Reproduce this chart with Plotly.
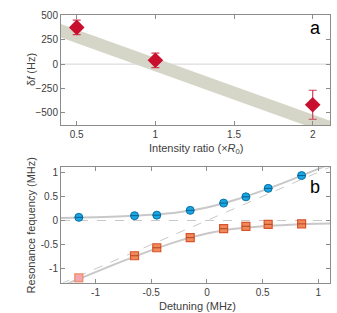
import plotly.graph_objects as go

# Panel a data
ratio = [0.5, 1.0, 2.0]
delta_f = [380, 40, -420]
delta_err = [75, 75, 150]
band_x = [0.4, 2.11]
band_upper = [415, -585]
band_lower = [275, -725]

# Panel b data
det = [-1.15, -0.65, -0.45, -0.15, 0.15, 0.35, 0.55, 0.85]
upper_f = [0.065, 0.10, 0.11, 0.21, 0.36, 0.49, 0.665, 0.93]
lower_f = [-1.19, -0.73, -0.565, -0.355, -0.17, -0.12, -0.08, -0.07]
fit_x = [-1.31, -1.0, -0.75, -0.5, -0.25, 0.0, 0.25, 0.5, 0.75, 1.0, 1.105]
fit_upper = [0.053, 0.068, 0.087, 0.118, 0.173, 0.27, 0.423, 0.618, 0.837, 1.068, 1.167]
fit_lower = [-1.363, -1.068, -0.837, -0.618, -0.423, -0.27, -0.173, -0.118, -0.087, -0.068, -0.062]
diag_x = [-1.31, 1.105]

FONT = "Liberation Sans"
TICKC = "#404040"
AXC = "#8c8c8c"
RED = "#c8102e"

fig = go.Figure()

# band
fig.add_trace(go.Scatter(x=band_x, y=band_upper, mode="lines", line=dict(width=0),
                         showlegend=False, hoverinfo="skip", xaxis="x", yaxis="y"))
fig.add_trace(go.Scatter(x=band_x, y=band_lower, mode="lines", line=dict(width=0),
                         fill="tonexty", fillcolor="rgb(214,214,200)",
                         showlegend=False, hoverinfo="skip", xaxis="x", yaxis="y"))
# zero line
fig.add_trace(go.Scatter(x=band_x, y=[0, 0], mode="lines", line=dict(color="#d4d4d4", width=1),
                         showlegend=False, xaxis="x", yaxis="y"))
# points a
fig.add_trace(go.Scatter(x=ratio, y=delta_f, mode="markers",
                         marker=dict(symbol="diamond", size=12, color=RED),
                         error_y=dict(type="data", array=delta_err, color="#d0405a",
                                      thickness=1.2, width=4),
                         showlegend=False, xaxis="x", yaxis="y"))

# panel b asymptotes
fig.add_trace(go.Scatter(x=diag_x, y=[0, 0], mode="lines",
                         line=dict(color="#c8c8c8", width=1, dash="dash"),
                         showlegend=False, xaxis="x2", yaxis="y2"))
fig.add_trace(go.Scatter(x=diag_x, y=diag_x, mode="lines",
                         line=dict(color="#c8c8c8", width=1, dash="dash"),
                         showlegend=False, xaxis="x2", yaxis="y2"))
# fits
for fy in (fit_upper, fit_lower):
    fig.add_trace(go.Scatter(x=fit_x, y=fy, mode="lines", line=dict(color="#c8c8c8", width=2, shape="spline"),
                             showlegend=False, xaxis="x2", yaxis="y2"))
# points
fig.add_trace(go.Scatter(x=det, y=upper_f, mode="markers",
                         marker=dict(symbol="circle", size=8, color="#1aa6e0",
                                     line=dict(color="#0b6fa8", width=1)),
                         showlegend=False, xaxis="x2", yaxis="y2"))
fig.add_trace(go.Scatter(x=det, y=upper_f, mode="markers",
                         marker=dict(symbol="line-ew", size=6, line=dict(color="#0b5f90", width=1)),
                         showlegend=False, xaxis="x2", yaxis="y2"))
sq_fill = ["#f4a7b0"] + ["#f08a5d"] * (len(det) - 1)
sq_line = ["#f08a5d"] + ["#d9542a"] * (len(det) - 1)
fig.add_trace(go.Scatter(x=det, y=lower_f, mode="markers",
                         marker=dict(symbol="square", size=8, color=sq_fill,
                                     line=dict(color=sq_line, width=1.2)),
                         showlegend=False, xaxis="x2", yaxis="y2"))
fig.add_trace(go.Scatter(x=det[1:], y=lower_f[1:], mode="markers",
                         marker=dict(symbol="line-ew", size=6, line=dict(color="#b4441f", width=1)),
                         showlegend=False, xaxis="x2", yaxis="y2"))

axis_common = dict(showgrid=False, zeroline=False, showline=True, linecolor=AXC, linewidth=1,
                   mirror="ticks", ticks="inside", ticklen=4, tickcolor=AXC,
                   tickfont=dict(family=FONT, size=10, color=TICKC))

W, H = 337, 313
fig.update_layout(
    width=W, height=H, margin=dict(l=0, r=0, t=0, b=0),
    paper_bgcolor="white", plot_bgcolor="white",
    font=dict(family=FONT, color=TICKC),
    xaxis=dict(domain=[61 / W, 330 / W], range=[0.4, 2.11], tickvals=[0.5, 1, 1.5, 2],
               ticktext=["0.5", "1", "1.5", "2"], anchor="y", **axis_common),
    yaxis=dict(domain=[1 - 122 / H, 1 - 10 / H], range=[-630, 510],
               tickvals=[500, 250, 0, -250, -500], anchor="x", **axis_common),
    xaxis2=dict(domain=[61 / W, 330 / W], range=[-1.31, 1.105], tickvals=[-1, -0.5, 0, 0.5, 1],
                ticktext=["-1", "-0.5", "0", "0.5", "1"], anchor="y2", **axis_common),
    yaxis2=dict(domain=[1 - 282.3 / H, 1 - 165 / H], range=[-1.29, 1.1],
                tickvals=[1, 0.5, 0, -0.5, -1], ticktext=["1", "0.5", "0", "-0.5", "-1"],
                anchor="x2", **axis_common),
)

def ann(text, x, y, size=11, angle=0, color=TICKC):
    fig.add_annotation(text=text, x=x / W, y=1 - y / H, xref="paper", yref="paper",
                       showarrow=False, textangle=angle, xanchor="center", yanchor="middle",
                       font=dict(family=FONT, size=size, color=color))

ann("Intensity ratio (×<i>R</i><sub>0</sub>)", 196, 146.5)
ann("δ<i>f</i> (Hz)", 31, 66, angle=-90)
ann("Detuning (MHz)", 197, 305.5)
ann("Resonance fequency (MHz)", 31, 224, angle=-90)
ann("a", 315, 23, size=18, color="black")
ann("b", 315, 185, size=18, color="black")

fig.write_html("out.html", config={"displayModeBar": False},
               post_script="document.body.style.margin='0';document.body.style.overflow='hidden';")
